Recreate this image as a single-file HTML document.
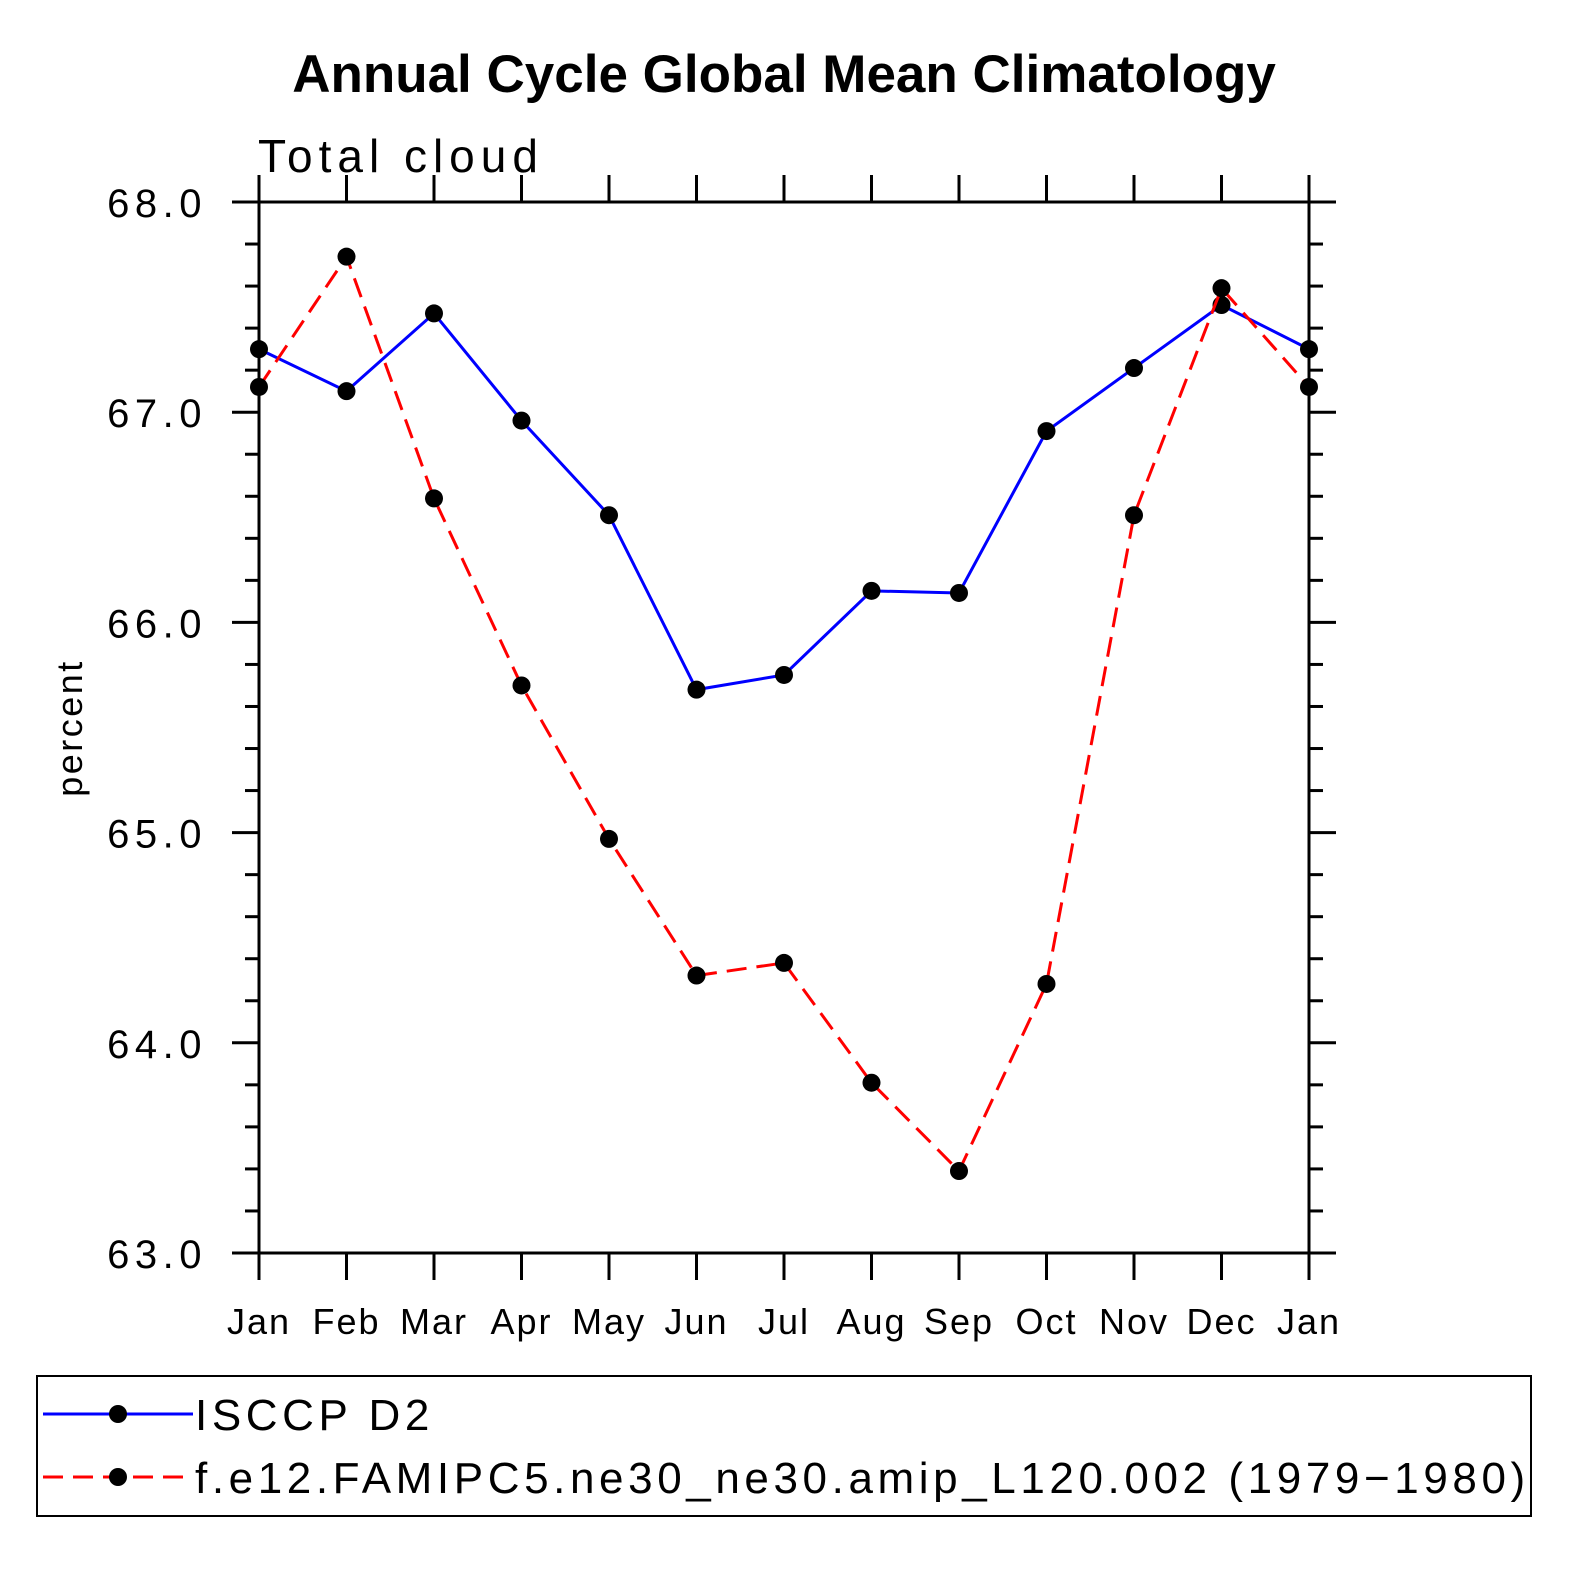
<!DOCTYPE html>
<html><head><meta charset="utf-8"><style>
html,body{margin:0;padding:0;background:#fff;}
svg{display:block;font-family:"Liberation Sans",sans-serif;}
</style></head><body>
<svg id="chart" width="1575" height="1575" viewBox="0 0 1575 1575">
<text x="784" y="92" text-anchor="middle" font-size="53" font-weight="bold">Annual Cycle Global Mean Climatology</text>
<text x="258" y="172" font-size="46" letter-spacing="6">Total cloud</text>
<text transform="translate(82,728) rotate(-90)" text-anchor="middle" font-size="36" letter-spacing="2.5">percent</text>
<g id="axes"></g>
<g id="series"></g>
<rect x="37" y="1376" width="1494" height="140" fill="none" stroke="#000" stroke-width="2"/>
<g>
<line x1="43" y1="1414" x2="193" y2="1414" stroke="#00f" stroke-width="3"/>
<circle cx="118" cy="1414" r="9" fill="#000"/>
<text x="195" y="1430" font-size="44" letter-spacing="4.6">ISCCP D2</text>
</g>
<g>
<line x1="43" y1="1477" x2="193" y2="1477" stroke="#f00" stroke-width="3" stroke-dasharray="20,10"/>
<circle cx="118" cy="1477" r="9" fill="#000"/>
<text x="195" y="1493" font-size="44" letter-spacing="4.6">f.e12.FAMIPC5.ne30_ne30.amip_L120.002 (1979−1980)</text>
</g>
</svg>
<script>
const months = ["Jan","Feb","Mar","Apr","May","Jun","Jul","Aug","Sep","Oct","Nov","Dec","Jan"];
const isccp = [67.30,67.10,67.47,66.96,66.51,65.68,65.75,66.15,66.14,66.91,67.21,67.51,67.30];
const model = [67.12,67.74,66.59,65.70,64.97,64.32,64.38,63.81,63.39,64.28,66.51,67.59,67.12];
const yTicks = [63,64,65,66,67,68];
const yTickLabels = ["63.0","64.0","65.0","66.0","67.0","68.0"];

const NS="http://www.w3.org/2000/svg";
const L=259,R=1309,T=202,B=1253,yMin=63,yMax=68;
const x=i=>L+(R-L)*i/(months.length-1);
const y=v=>B-(B-T)*(v-yMin)/(yMax-yMin);
function mk(tag,attrs,parent){const e=document.createElementNS(NS,tag);for(const k in attrs)e.setAttribute(k,attrs[k]);parent.appendChild(e);return e;}
const ax=document.getElementById('axes');
const frame=mk('rect',{x:L,y:T,width:R-L,height:B-T,fill:'none',stroke:'#000','stroke-width':3},ax);


months.forEach((m,i)=>{
  const X=x(i);
  mk('line',{x1:X,y1:T,x2:X,y2:T-27,stroke:'#000','stroke-width':3},ax);
  mk('line',{x1:X,y1:B,x2:X,y2:B+27,stroke:'#000','stroke-width':3},ax);
  const t=mk('text',{x:X,y:1334,'text-anchor':'middle','font-size':36,'letter-spacing':2},ax);
  t.textContent=m;
  
  
});
for(let v=yMin;v<=yMax+1e-9;v+=0.2){
  const Y=y(v);const major=Math.abs(v-Math.round(v))<1e-6;const len=major?27:14;
  mk('line',{x1:L,y1:Y,x2:L-len,y2:Y,stroke:'#000','stroke-width':3},ax);
  mk('line',{x1:R,y1:Y,x2:R+len,y2:Y,stroke:'#000','stroke-width':3},ax);
}
yTicks.forEach((v,i)=>{
  const t=mk('text',{x:207,y:y(v)+15,'text-anchor':'end','font-size':40,'letter-spacing':5.5},ax);
  t.textContent=yTickLabels[i];
  
  
});
const sg=document.getElementById('series');
function draw(vals,color,dash,name){
  const p=mk('polyline',{points:vals.map((v,i)=>x(i)+','+y(v)).join(' '),fill:'none',stroke:color,'stroke-width':3},sg);
  if(dash)p.setAttribute('stroke-dasharray',dash);
  
  
  vals.forEach((v,i)=>{
    const c=mk('circle',{cx:x(i),cy:y(v),r:9,fill:'#000'},sg);
    
    
  });
}
draw(isccp,'#00f',null,'isccp');
draw(model,'#f00','20,10','model');
</script>
</body></html>
